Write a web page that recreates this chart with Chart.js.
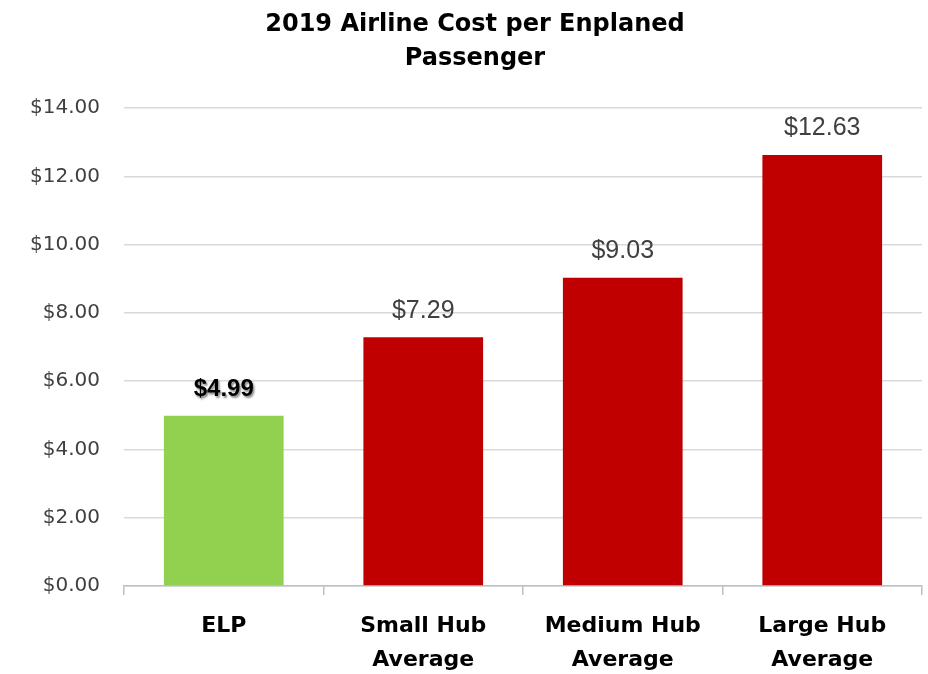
<!DOCTYPE html>
<html>
<head>
<meta charset="utf-8">
<script src="https://cdn.jsdelivr.net/npm/chart.js@4/dist/chart.umd.min.js"></script>
<style>
	html, body { margin: 0; padding: 0; background: #fff; }
	#wrap { width: 928px; height: 674px; }
</style>
</head>
<body>
<div id="wrap"><canvas id="costChart" width="928" height="674"></canvas></div>
<script>
// chart values
const categories = [['ELP'], ['Small Hub', 'Average'], ['Medium Hub', 'Average'], ['Large Hub', 'Average']];
const costValues = [4.99, 7.29, 9.03, 12.63];
const barColors = ['#92d050', '#c00000', '#c00000', '#c00000'];
const yTicks = [0, 2, 4, 6, 8, 10, 12, 14];
const chartTitle = ['2019 Airline Cost per Enplaned', 'Passenger'];

// draws the value above each bar
const valueLabels = {
	id: 'valueLabels',
	afterDatasetsDraw(chart) {
		const ctx = chart.ctx;
		const meta = chart.getDatasetMeta(0);
		meta.data.forEach((bar, i) => {
			const text = '$' + costValues[i].toFixed(2);
			ctx.save();
			ctx.textAlign = 'center';
			ctx.textBaseline = 'bottom';
			if (i === 0) {
				ctx.font = 'bold 24px "Liberation Sans", Arial, sans-serif';
				ctx.shadowColor = 'rgba(0,0,0,0.45)';
				ctx.shadowOffsetX = 1.5;
				ctx.shadowOffsetY = 1.5;
				ctx.shadowBlur = 2;
				ctx.fillStyle = '#000';
			} else {
				ctx.font = '25px "Liberation Sans", Arial, sans-serif';
				ctx.fillStyle = '#404040';
			}
			ctx.fillText(text, bar.x, bar.y - 14);
			ctx.restore();
		});
	}
};

new Chart(document.getElementById('costChart').getContext('2d'), {
	type: 'bar',
	data: {
		labels: categories,
		datasets: [{
			data: costValues,
			backgroundColor: barColors,
			borderWidth: 0,
			barPercentage: 0.6,
			categoryPercentage: 1.0
		}]
	},
	options: {
		responsive: false,
		animation: false,
		devicePixelRatio: 1,
		layout: { padding: { left: 28, right: 6, top: 0, bottom: 0 } },
		plugins: {
			legend: { display: false },
			tooltip: { enabled: false },
			title: {
				display: true,
				text: chartTitle,
				color: '#000',
				font: { family: '"DejaVu Sans", sans-serif', size: 24, weight: 'bold', lineHeight: 1.4 },
				padding: { top: 8, bottom: 33 }
			}
		},
		scales: {
			y: {
				min: 0,
				max: 14,
				afterBuildTicks: axis => { axis.ticks = yTicks.map(v => ({ value: v })); },
				afterFit: axis => { axis.width = 96; },
				border: { display: false },
				grid: { color: '#d9d9d9', lineWidth: 1.5, drawTicks: false },
				ticks: {
					padding: 24,
					color: '#404040',
					font: { family: '"DejaVu Sans", sans-serif', size: 20 },
					callback: v => '$' + Number(v).toFixed(2)
				}
			},
			x: {
				afterFit: axis => { axis.height = 88; },
				border: { display: true, color: '#bfbfbf', width: 1.5 },
				grid: { offset: true, drawOnChartArea: false, drawTicks: true, tickLength: 9, color: '#bfbfbf', lineWidth: 1.5 },
				ticks: {
					padding: 14,
					color: '#000',
					font: { family: '"DejaVu Sans", sans-serif', size: 22, weight: 'bold', lineHeight: 1.55 }
				}
			}
		}
	},
	plugins: [valueLabels]
});
</script>
</body>
</html>
